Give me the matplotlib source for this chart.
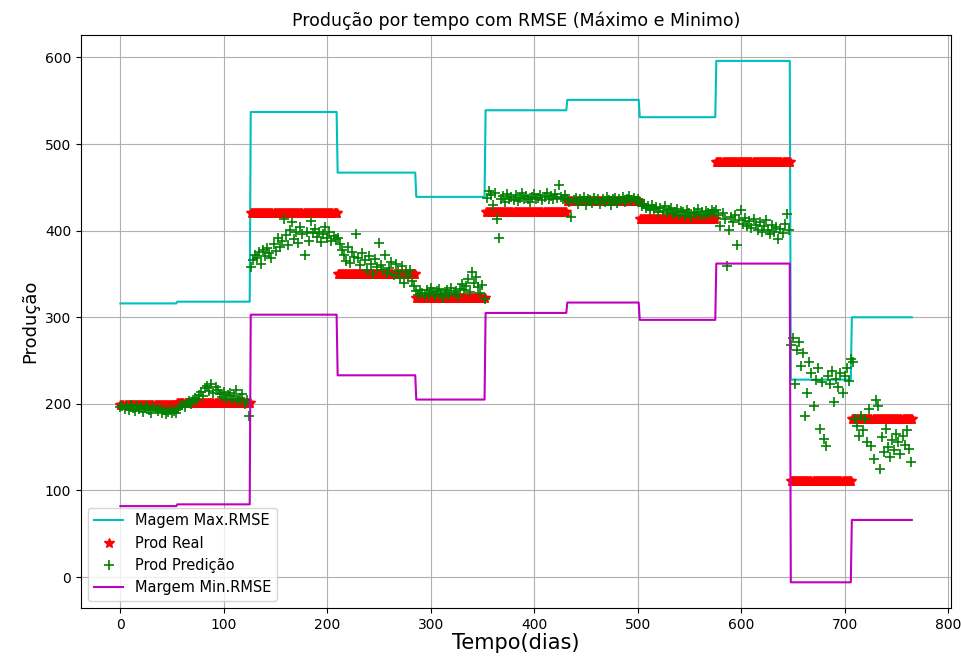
import numpy as np
import matplotlib.pyplot as plt

# segmentos de producao real (dia inicial, valor)
seg_inicio = [0, 55, 126, 210, 286, 353, 432, 502, 576, 648, 707]
seg_real = [199, 201, 420, 350, 322, 422, 434, 414, 479, 111, 183]
n_dias = 766
rmse = 117

# predicao, um valor a cada 2 dias (dia 0 ate 764)
pred = [
    # 0-54
    196,198,194,197,193,199,195,192,197,194,196,191,195,198,193,190,196,194,192,195,190,193,188,191,194,189,192,190,
    # 56-124
    194,197,199,196,201,203,200,205,207,204,210,214,209,218,221,215,223,212,219,216,211,208,214,206,210,213,204,209,216,203,207,211,200,205,186,
    # 126-208
    358,366,372,368,375,362,378,371,380,374,369,385,376,392,381,388,413,395,383,401,410,390,398,386,404,396,372,399,388,411,397,402,393,399,387,396,404,391,398,388,394,390,
    # 210-284
    392,385,378,372,365,381,363,375,370,396,368,360,374,366,355,371,362,350,367,358,386,360,354,372,351,357,364,349,361,353,345,359,340,352,348,355,342,336,
    # 286-352
    330,326,332,328,324,331,327,334,329,325,330,333,327,322,329,331,326,334,328,330,325,333,338,331,336,344,329,352,340,347,335,328,337,321,
    # 354-430
    438,446,441,430,444,413,392,436,440,433,442,437,439,435,441,434,438,443,436,440,437,433,439,442,436,438,441,435,439,444,437,440,436,442,438,453,439,436,441,
    # 432-500
    437,433,416,435,438,431,436,434,439,430,437,435,432,438,434,436,431,437,433,439,435,430,436,438,432,437,434,439,433,436,440,435,438,434,437,
    # 502-574
    433,429,431,426,428,424,430,425,427,421,426,423,428,420,424,426,419,422,425,418,423,421,417,424,420,416,422,419,425,418,421,417,423,420,419,424,422,
    # 576-646
    424,418,405,420,414,359,401,416,410,418,384,412,424,408,415,405,411,403,413,407,401,410,398,405,412,401,396,406,399,404,390,402,397,408,419,401,
    # 648-706
    268,276,223,262,271,244,259,186,213,248,236,197,228,241,171,225,159,151,232,223,238,202,229,219,236,212,232,241,226,252,
    # 708-764
    248,182,175,163,186,170,182,156,194,151,136,205,198,125,162,144,171,150,139,158,147,165,156,142,163,152,170,148,133,
]

dias = np.arange(n_dias)
tam = np.diff(seg_inicio + [n_dias])
real = np.repeat(seg_real, tam)
dias_pred = np.arange(len(pred)) * 2

fig = plt.figure(figsize=(9.62, 6.57), dpi=100)
ax = fig.add_axes([0.084, 0.074, 0.905, 0.873])

ax.plot(dias, real + rmse, 'c', label='Magem Max.RMSE')
ax.plot(dias, real, 'r*', markersize=7, label='Prod Real')
ax.plot(dias_pred, pred, 'g+', markersize=7, markeredgewidth=1.2, label='Prod Predição')
ax.plot(dias, real - rmse, 'm', label='Margem Min.RMSE')

ax.set_title('Produção por tempo com RMSE (Máximo e Minimo)', fontsize=12.5)
ax.set_xlabel('Tempo(dias)', fontsize=15, labelpad=1)
ax.set_ylabel('Produção', fontsize=13)
ax.grid(True)
ax.legend(loc='lower left', fontsize=10.5)

fig.savefig('out.png')
